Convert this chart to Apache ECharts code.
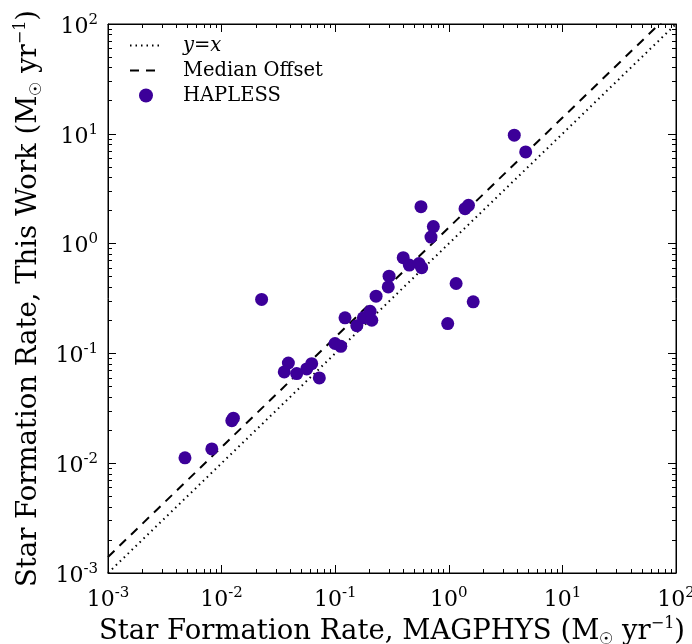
<!DOCTYPE html>
<html>
<head>
<meta charset="utf-8">
<script src="https://cdn.jsdelivr.net/npm/echarts@6/dist/echarts.min.js"></script>
<style>
    html, body { margin: 0; padding: 0; background: #fff; }
    #chartSfr { width: 692px; height: 644px; }
</style>
</head>
<body>
<div id="chartSfr"></div>
<script>
// data
var sfrMagphys = [0.00476, 0.0082, 0.0123, 0.0127, 0.0225, 0.0356, 0.0387, 0.0458, 0.0561, 0.0621,
    0.0725, 0.0996, 0.112, 0.122, 0.155, 0.177, 0.203, 0.210, 0.229, 0.293,
    0.298, 0.397, 0.449, 0.547, 0.577, 0.569, 0.697, 0.731, 0.978, 1.16,
    1.39, 1.49, 1.64, 3.77, 4.75];
var sfrThisWork = [0.0112, 0.0135, 0.0244, 0.0257, 0.310, 0.0678, 0.0818, 0.0655, 0.0722, 0.0807,
    0.0598, 0.123, 0.116, 0.211, 0.179, 0.211, 0.242, 0.2005, 0.332, 0.403,
    0.505, 0.744, 0.637, 0.659, 0.603, 2.17, 1.146, 1.43, 0.187, 0.433,
    2.08, 2.23, 0.295, 9.71, 6.84];
var identityX = [0.001, 100];
var medianOffset = 1.4;
var majorTicks = [0.001, 0.01, 0.1, 1, 10, 100];
var minorTicks = [];
majorTicks.slice(0, 5).forEach(function (d) {
    for (var k = 2; k <= 9; k++) minorTicks.push(d * k);
});

(function () {
    var FONT = 'DejaVu Serif';
    var chart = echarts.init(document.getElementById('chartSfr'));

    function expLabel(v) {
        var e = Math.round(Math.log10(v));
        return '{b|10}{s|' + e + '}';
    }
    var labelRich = {
        b: { fontFamily: FONT, fontSize: 22, color: '#000', padding: [6, 0, 0, 0] },
        s: { fontFamily: FONT, fontSize: 15, color: '#000', padding: [0, 0, 8, 0] }
    };
    var nameRich = {
        t: { fontFamily: FONT, fontSize: 27.5, color: '#000' },
        sub: { fontFamily: FONT, fontSize: 16, color: '#000', padding: [16, 0, 0, 0] },
        sup: { fontFamily: FONT, fontSize: 16, color: '#000', padding: [0, 0, 16, 0] }
    };

    function axis(pos, isMinor, withLabel, extra) {
        var o = {
            type: 'log',
            logBase: 10,
            min: 0.001,
            max: 100,
            position: pos,
            splitLine: { show: false },
            axisLine: { show: !isMinor, onZero: false, lineStyle: { color: '#000', width: 1 } },
            axisTick: {
                show: true,
                inside: true,
                length: isMinor ? 4 : 8,
                customValues: isMinor ? minorTicks : majorTicks,
                lineStyle: { color: '#000', width: 1 }
            },
            axisLabel: {
                show: withLabel,
                customValues: majorTicks,
                formatter: expLabel,
                rich: labelRich,
                margin: 10
            }
        };
        for (var k in extra) o[k] = extra[k];
        return o;
    }

    var xName = '{t|Star Formation Rate, MAGPHYS (M}{sub|☉}{t| yr}{sup|−1}{t|)}';
    var yName = '{t|Star Formation Rate, This Work (M}{sub|☉}{t| yr}{sup|−1}{t|)}';

    var points = sfrMagphys.map(function (x, i) { return [x, sfrThisWork[i]]; });

    chart.setOption({
        animation: false,
        grid: {
            left: 108, right: 16, top: 24, bottom: 71,
            outerBoundsMode: 'none',
            show: true, borderColor: '#000', borderWidth: 1
        },
        legend: {
            orient: 'vertical',
            left: 124,
            top: 30,
            itemWidth: 32,
            itemHeight: 14,
            itemGap: 4,
            textStyle: { fontFamily: FONT, fontSize: 19.5, lineHeight: 21, color: '#000', padding: [0, 0, 0, 16] },
            data: [
                { name: 'y=x', textStyle: { fontStyle: 'italic' }, itemStyle: { opacity: 0 } },
                { name: 'Median Offset', itemStyle: { opacity: 0 } },
                { name: 'HAPLESS', icon: 'circle', itemStyle: { opacity: 1 } }
            ]
        },
        xAxis: [
            axis('bottom', false, true, {
                name: xName, nameLocation: 'middle', nameGap: 41,
                nameTextStyle: { rich: nameRich }
            }),
            axis('bottom', true, false, {}),
            axis('top', false, false, {}),
            axis('top', true, false, {})
        ],
        yAxis: [
            axis('left', false, true, {
                name: yName, nameLocation: 'middle', nameGap: 60,
                nameTextStyle: { rich: nameRich }
            }),
            axis('left', true, false, {}),
            axis('right', false, false, {}),
            axis('right', true, false, {})
        ],
        series: [{
            name: 'y=x',
            type: 'line',
            symbol: 'none',
            data: identityX.map(function (v) { return [v, v]; }),
            lineStyle: { color: '#000', width: 2, type: [1.5, 4] },
            itemStyle: { color: '#000' },
            z: 3
        }, {
            name: 'Median Offset',
            type: 'line',
            symbol: 'none',
            clip: true,
            data: identityX.map(function (v) { return [v, v * medianOffset]; }),
            lineStyle: { color: '#000', width: 2, type: [9, 7] },
            itemStyle: { color: '#000' },
            z: 3
        }, {
            name: 'HAPLESS',
            type: 'scatter',
            symbol: 'circle',
            symbolSize: 13,
            data: points,
            itemStyle: { color: '#3c0099', opacity: 1 },
            z: 4
        }]
    });
})();
</script>
</body>
</html>
